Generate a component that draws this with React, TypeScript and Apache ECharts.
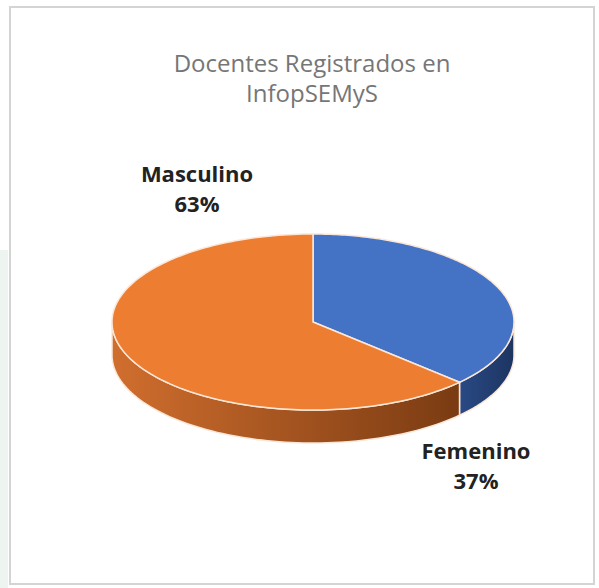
import React, { useEffect, useRef } from "react";
import * as echarts from "echarts";

const categories = ["Femenino", "Masculino"];
const values = [37, 63];
const titleLines = ["Docentes Registrados en", "InfopSEMyS"];

const topColors = ["#4472C4", "#ED7D31"];
const sideStops = [
  ["#2A4A85", "#1C3461"],
  ["#D06E2E", "#7A3B12"],
];

export default function App() {
  const ref = useRef<HTMLDivElement>(null);

  useEffect(() => {
    const chart = echarts.init(ref.current!, null, { renderer: "svg" });
    const total = values.reduce((a, b) => a + b, 0);
    const cx = 313, cy = 322, rx = 201, ry = 88, depth = 33;
    const pt = (deg: number, dy = 0) => {
      const r = (deg * Math.PI) / 180;
      return [cx + rx * Math.cos(r), cy - ry * Math.sin(r) + dy];
    };
    const labelAnchors = [
      [476, 465],
      [197, 188],
    ];
    const edge = "#FBE7D8";

    const renderItem = (params: any, api: any) => {
      const i = params.dataIndex;
      let start = 90;
      for (let k = 0; k < i; k++) start -= (values[k] / total) * 360;
      const sweep = (api.value(1) / total) * 360;
      const end = start - sweep;
      const children: any[] = [];
      const lo = Math.min(start, end), hi = Math.max(start, end);
      for (const base of [-360, 0, 360]) {
        const a = Math.max(lo, -180 + base);
        const b = Math.min(hi, base);
        if (a < b) {
          const pts: number[][] = [];
          const n = 80;
          for (let s = 0; s <= n; s++) pts.push(pt(a + ((b - a) * s) / n));
          for (let s = n; s >= 0; s--) pts.push(pt(a + ((b - a) * s) / n, depth));
          children.push({
            type: "polygon",
            shape: { points: pts },
            style: {
              fill: new echarts.graphic.LinearGradient(0, 0, 1, 0, [
                { offset: 0, color: sideStops[i][0] },
                { offset: 1, color: sideStops[i][1] },
              ]),
              stroke: edge,
              lineWidth: 1.5,
            },
          });
        }
      }
      const top: number[][] = [[cx, cy]];
      const n = 160;
      for (let s = 0; s <= n; s++) top.push(pt(start - (sweep * s) / n));
      children.push({
        type: "polygon",
        shape: { points: top },
        style: { fill: topColors[i], stroke: edge, lineWidth: 1.5 },
      });
      const pct = Math.round((api.value(1) / total) * 100);
      children.push({
        type: "text",
        style: {
          text: `${categories[i]}\n${pct}%`,
          x: labelAnchors[i][0],
          y: labelAnchors[i][1],
          align: "center",
          verticalAlign: "middle",
          fill: "#222222",
          fontFamily: "Open Sans",
          fontWeight: "bold",
          fontSize: 22,
          lineHeight: 30,
        },
      });
      return { type: "group", children };
    };

    const titleStyle = {
      align: "center",
      verticalAlign: "middle",
      fill: "#767676",
      fontFamily: "Open Sans",
      fontSize: 24,
      lineHeight: 26,
    };

    chart.setOption({
      animation: false,
      backgroundColor: "#ffffff",
      graphic: [
        {
          type: "rect",
          shape: { x: 0, y: 250, width: 8, height: 338 },
          style: { fill: "#EEF4F0" },
          silent: true,
        },
        {
          type: "rect",
          shape: { x: 10, y: 7, width: 584, height: 577 },
          style: { fill: "#ffffff", stroke: "#D4D4D4", lineWidth: 2 },
          silent: true,
          z: -1,
        },
        {
          type: "text",
          style: { ...titleStyle, text: titleLines[0], x: 312, y: 62 },
        },
        {
          type: "text",
          style: { ...titleStyle, text: titleLines[1], x: 312, y: 92 },
        },
      ],
      series: [
        {
          type: "custom",
          coordinateSystem: "none",
          renderItem,
          data: categories.map((c, i) => ({ name: c, value: [i, values[i]] })),
        },
      ],
    });
    return () => chart.dispose();
  }, []);

  return (
    <div
      ref={ref}
      style={{ position: "fixed", left: 0, top: 0, width: 599, height: 588 }}
    />
  );
}
